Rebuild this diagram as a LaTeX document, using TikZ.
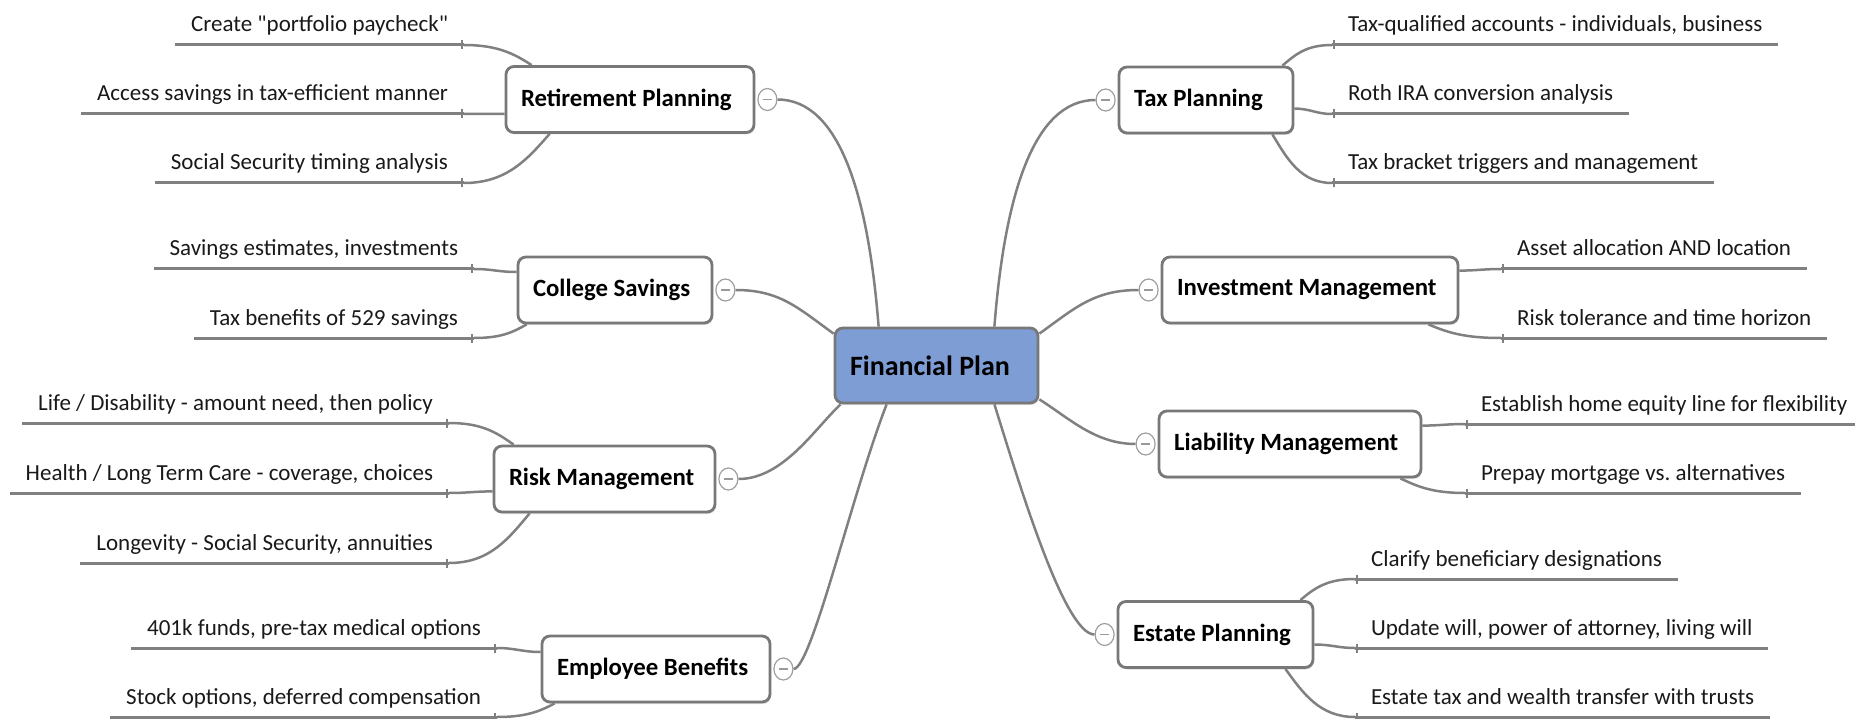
\documentclass[tikz,border=0pt]{standalone}
\usepackage{fontspec}
\setmainfont{Carlito}[Ligatures=TeXOff]
\usetikzlibrary{calc,shapes.geometric,shadows}
\pgfdeclarelayer{bg}
\pgfsetlayers{bg,main}
\definecolor{linegray}{RGB}{128,128,128}
\definecolor{boxgray}{RGB}{120,120,120}
\definecolor{planblue}{RGB}{126,157,212}
\definecolor{txt}{RGB}{25,25,25}
\newcommand{\tbox}[2]{\makebox[#1pt][l]{#2}}
\tikzset{
  topic/.style={draw=boxgray, line width=2.8pt, fill=white, rounded corners=8pt,
    minimum height=66pt, inner xsep=15pt, inner ysep=0pt,
    font=\fontsize{24.8}{29}\selectfont\bfseries, text=black,
    drop shadow={opacity=0.25, shadow xshift=1pt, shadow yshift=-2pt}},
  central/.style={topic, fill=planblue, minimum height=75pt,
    font=\fontsize{28}{32}\selectfont\bfseries},
  leaf/.style={inner xsep=16pt, inner ysep=13pt, text depth=0pt, outer sep=0pt,
    font=\frenchspacing\fontsize{23}{27}\selectfont, text=txt},
  leafL/.style={leaf, anchor=south east},
  leafR/.style={leaf, anchor=south west},
  leafline/.style={draw=linegray, line width=3pt},
  tick/.style={draw=linegray, line width=2.5pt},
  branch/.style={draw=linegray, line width=2.5pt},
  knob/.style={ellipse, draw=gray!75, line width=1.2pt, fill=white,
    minimum width=19pt, minimum height=22pt, inner sep=0pt,
    path picture={\draw[gray!80, line width=1.5pt]
      ($(path picture bounding box.center)+(-4.5pt,0pt)$) --
      ($(path picture bounding box.center)+(4.5pt,0pt)$);}},
}
\begin{document}
\begin{tikzpicture}[x=1pt,y=-1pt]
\useasboundingbox (0,0) rectangle (1855,719);

% central node
\node[central] (fp) at (936.5,365.5) {\tbox{173}{Financial Plan}};

% main topics
\node[topic] (rp) at (630,99.5) {\tbox{218}{Retirement Planning}};
\node[topic] (cs) at (615,290) {\tbox{164}{College Savings}};
\node[topic] (rm) at (604.5,479) {\tbox{191}{Risk Management}};
\node[topic] (eb) at (656,669) {\tbox{198}{Employee Benefits}};
\node[topic] (tp) at (1206,100) {\tbox{144}{Tax Planning}};
\node[topic] (im) at (1310,290) {\tbox{266}{Investment Management}};
\node[topic] (lm) at (1290,444) {\tbox{232}{Liability Management}};
\node[topic] (ep) at (1215.5,634.5) {\tbox{165}{Estate Planning}};

% collapse knobs
\node[knob] (rpc) at ($(rp.east)+(12,0)$) {};
\node[knob] (csc) at ($(cs.east)+(12,0)$) {};
\node[knob] (rmc) at ($(rm.east)+(12,0)$) {};
\node[knob] (ebc) at ($(eb.east)+(12,0)$) {};
\node[knob] (tpc) at ($(tp.west)+(-12,0)$) {};
\node[knob] (imc) at ($(im.west)+(-12,0)$) {};
\node[knob] (lmc) at ($(lm.west)+(-12,0)$) {};
\node[knob] (epc) at ($(ep.west)+(-12,0)$) {};

% central connectors
\begin{pgfonlayer}{bg}
\draw[branch] (rpc.east) .. controls +(63,0) and +(-10,-128) .. ($(fp.north west)+(45,0)$);
\draw[branch] (tpc.west) .. controls +(-63,0) and +(10,-128) .. ($(fp.north east)+(-45,0)$);
\draw[branch] (csc.east) .. controls +(45,0) and +(-35,-25) .. ($(fp.north west)+(0,7)$);
\draw[branch] (imc.west) .. controls +(-45,0) and +(35,-25) .. ($(fp.north east)+(0,7)$);
\draw[branch] (rmc.east) .. controls +(45,0) and +(-25,23) .. ($(fp.south west)+(7,0)$);
\draw[branch] (lmc.west) .. controls +(-40,0) and +(30,19) .. ($(fp.south east)+(0,-5)$);
\draw[branch] (ebc.east) .. controls +(18,0) and +(-35,90) .. ($(fp.south west)+(53,0)$);
\draw[branch] (epc.west) .. controls +(-30,0) and +(25,80) .. ($(fp.south east)+(-45,0)$);
\end{pgfonlayer}

% leaves: left side
\node[leafL] (r1) at (464,45) {Create "portfolio paycheck"};
\node[leafL] (r2) at (464,114) {Access savings in tax-efficient manner};
\node[leafL] (r3) at (464,183) {Social Security timing analysis};
\node[leafL] (c1) at (474,269) {Savings estimates, investments};
\node[leafL] (c2) at (474,338) {Tax benefits of 529 savings};
\node[leafL] (k1) at (449,423) {Life / Disability - amount need, then policy};
\node[leafL] (k2) at (449,493) {Health / Long Term Care - coverage, choices};
\node[leafL] (k3) at (449,563) {Longevity - Social Security, annuities};
\node[leafL] (e1) at (497,648) {401k funds, pre-tax medical options};
\node[leafL] (e2) at (497,717) {Stock options, deferred compensation};
% leaves: right side
\node[leafR] (t1) at (1332,45) {Tax-qualified accounts - individuals, business};
\node[leafR] (t2) at (1332,114) {Roth IRA conversion analysis};
\node[leafR] (t3) at (1332,183) {Tax bracket triggers and management};
\node[leafR] (i1) at (1501,269) {Asset allocation AND location};
\node[leafR] (i2) at (1501,338) {Risk tolerance and time horizon};
\node[leafR] (l1) at (1465,424) {Establish home equity line for flexibility};
\node[leafR] (l2) at (1465,493) {Prepay mortgage vs. alternatives};
\node[leafR] (s1) at (1355,579) {Clarify beneficiary designations};
\node[leafR] (s2) at (1355,648) {Update will, power of attorney, living will};
\node[leafR] (s3) at (1355,717) {Estate tax and wealth transfer with trusts};

% leaf underlines and ticks
\foreach \n in {r1,r2,r3,c1,c2,k1,k2,k3,e1,e2}{
  \draw[leafline] (\n.south west) -- (\n.south east);
  \draw[tick] ($(\n.south east)+(-2,-4.5)$) -- ($(\n.south east)+(-2,4.5)$);
}
\foreach \n in {t1,t2,t3,i1,i2,l1,l2,s1,s2,s3}{
  \draw[leafline] (\n.south west) -- (\n.south east);
  \draw[tick] ($(\n.south west)+(2,-4.5)$) -- ($(\n.south west)+(2,4.5)$);
}

% branches to leaves
\draw[branch] ($(rp.north west)+(27,0)$) .. controls +(-17,-11) and +(34,0) .. (r1.south east);
\draw[branch] ($(rp.south west)+(0,-20)$) .. controls +(-18,0) and +(18,0) .. (r2.south east);
\draw[branch] ($(rp.south west)+(45,0)$) .. controls +(-22,25) and +(43,0) .. (r3.south east);

\draw[branch] ($(cs.west)+(0,-18)$) .. controls +(-18,0) and +(18,0) .. (c1.south east);
\draw[branch] ($(cs.south west)+(10,0)$) .. controls +(-14,8) and +(27,0) .. (c2.south east);

\draw[branch] ($(rm.north west)+(21,0)$) .. controls +(-17,-12) and +(33,0) .. (k1.south east);
\draw[branch] ($(rm.south west)+(0,-22)$) .. controls +(-18,0) and +(18,0) .. (k2.south east);
\draw[branch] ($(rm.south west)+(37,0)$) .. controls +(-21,25) and +(41,0) .. (k3.south east);

\draw[branch] ($(eb.west)+(0,-17)$) .. controls +(-18,0) and +(18,0) .. (e1.south east);
\draw[branch] ($(eb.south west)+(14,0)$) .. controls +(-15,8) and +(29,0) .. (e2.south east);

\draw[branch] ($(tp.north east)+(-12,0)$) .. controls +(13,-11) and +(-26,0) .. (t1.south west);
\draw[branch] ($(tp.north east)+(0,43)$) .. controls +(16,0) and +(-16,0) .. (t2.south west);
\draw[branch] ($(tp.south east)+(-22,0)$) .. controls +(15,25) and +(-31,0) .. (t3.south west);

\draw[branch] ($(im.north east)+(0,15)$) .. controls +(17,0) and +(-17,0) .. (i1.south west);
\draw[branch] ($(im.south east)+(-31,0)$) .. controls +(19,8) and +(-37,0) .. (i2.south west);

\draw[branch] ($(lm.north east)+(0,16)$) .. controls +(17,0) and +(-17,0) .. (l1.south west);
\draw[branch] ($(lm.south east)+(-22,0)$) .. controls +(17,8) and +(-33,0) .. (l2.south west);

\draw[branch] ($(ep.north east)+(-14,0)$) .. controls +(14,-12) and +(-28,0) .. (s1.south west);
\draw[branch] ($(ep.east)+(0,10)$) .. controls +(17,0) and +(-17,0) .. (s2.south west);
\draw[branch] ($(ep.south east)+(-29,0)$) .. controls +(18,25) and +(-35,0) .. (s3.south west);
\end{tikzpicture}
\end{document}
